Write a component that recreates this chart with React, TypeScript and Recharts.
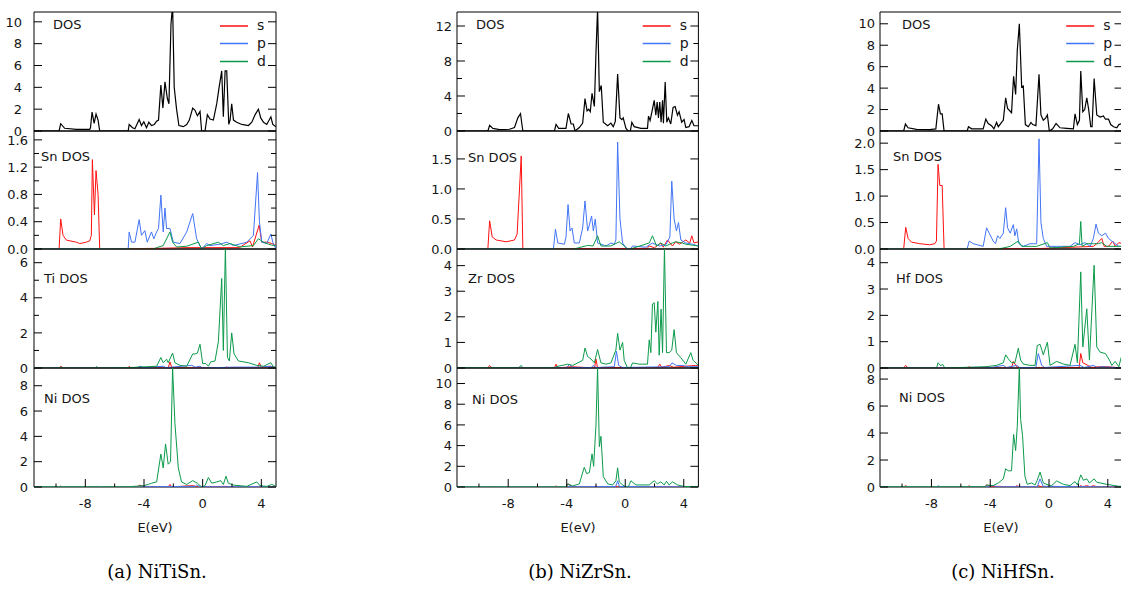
import { LineChart, Line, XAxis, YAxis, ReferenceArea } from 'recharts';

type Pt = [number, number];

const E_DOMAIN: [number, number] = [-11.5, 5];
const X_TICKS = [-10, -8, -6, -4, -2, 0, 2, 4];
const X_LABELS = [-8, -4, 0, 4];

// ---- (a) NiTiSn ----
const aTot: Pt[] = [[-11.5,0],[-9.79,0],[-9.68,0.67],[-9.41,0.25],[-8.61,0.15],[-7.7,0.15],[-7.65,0.3],[-7.54,1.74],[-7.4,0.7],[-7.27,1.55],[-7.13,1.0],[-7.02,0],[-5.08,0],[-5.01,0.6],[-4.78,0.3],[-4.62,0.2],[-4.33,1.05],[-4.17,0.5],[-4.01,0.85],[-3.83,0.3],[-3.67,0.8],[-3.49,0.5],[-3.3,0.6],[-3.14,0.9],[-3.01,1.0],[-2.85,4.2],[-2.71,2.1],[-2.57,4.5],[-2.41,3.0],[-2.3,2.5],[-2.16,9.8],[-2.05,11.5],[-1.94,4.0],[-1.78,2.0],[-1.62,0.5],[-1.32,0.4],[-1.09,0.6],[-0.91,1.0],[-0.68,2.1],[-0.52,1.9],[-0.36,1.4],[-0.18,1.8],[-0.07,0],[0.16,0],[0.32,1.5],[0.5,1.1],[0.73,1.0],[0.96,2.5],[1.12,4.0],[1.3,5.5],[1.41,1.3],[1.53,5.5],[1.64,5.5],[1.78,0.6],[1.87,1.0],[1.98,2.5],[2.1,1.0],[2.32,0.8],[2.67,0.6],[3.12,0.5],[3.35,0.8],[3.58,1.5],[3.8,2.0],[3.96,1.2],[4.15,0.8],[4.37,0.6],[4.65,1.3],[4.78,0.6],[5.0,0.4]];
const aSnS: Pt[] = [[-11.5,0],[-9.79,0],[-9.68,0.44],[-9.52,0.2],[-9.29,0.13],[-8.61,0.1],[-8.38,0.08],[-7.93,0.1],[-7.7,0.12],[-7.59,0.2],[-7.52,1.31],[-7.38,0.5],[-7.27,1.15],[-7.13,0.8],[-7.02,0],[-3.0,0.01],[-1.0,0.02],[2.5,0.02],[3.23,0.12],[3.4,0.03],[3.85,0.35],[4.03,0.1],[4.37,0.1],[4.71,0.08],[5.0,0.05]];
const aSnP: Pt[] = [[-11.5,0],[-5.08,0],[-5.01,0.25],[-4.85,0.1],[-4.62,0.1],[-4.33,0.43],[-4.17,0.2],[-3.94,0.27],[-3.78,0.1],[-3.49,0.25],[-3.33,0.15],[-3.14,0.25],[-3.01,0.3],[-2.85,0.79],[-2.69,0.25],[-2.57,0.6],[-2.46,0.3],[-2.23,0.3],[-2.0,0.1],[-1.55,0.08],[-1.09,0.25],[-0.68,0.52],[-0.41,0.15],[-0.07,0],[0.27,0.08],[0.5,0.05],[1.18,0.07],[1.64,0.1],[2.1,0.05],[3.01,0.1],[3.46,0.2],[3.74,1.12],[3.87,0.4],[4.03,0.1],[4.37,0.08],[4.65,0.22],[4.78,0.1],[5.0,0]];
const aSnD: Pt[] = [[-11.5,0],[-3.37,0],[-3.14,0.02],[-2.69,0.05],[-2.23,0.25],[-2.05,0.1],[-1.78,0.03],[-1.09,0.04],[-0.3,0.1],[-0.07,0],[0.27,0.05],[1.07,0.1],[1.41,0.05],[1.87,0.08],[2.55,0.03],[3.46,0.05],[3.8,0.15],[4.15,0.1],[4.49,0.07],[4.83,0.05],[5.0,0.05]];
const aTiS: Pt[] = [[-11.5,0],[-9.8,0],[-9.68,0.1],[-9.5,0],[-5.1,0],[-5.0,0.1],[-4.9,0],[-2.35,0],[-2.23,0.35],[-2.1,0],[1.6,0],[1.64,0.07],[1.7,0],[3.75,0],[3.87,0.3],[4.0,0.02],[4.6,0.1],[5.0,0.02]];
const aTiP: Pt[] = [[-11.5,0],[-4.5,0],[-4.28,0.1],[-4.0,0.02],[-2.69,0.1],[-2.5,0.02],[-0.75,0.15],[-0.5,0.05],[-0.18,0.1],[0,0],[2.1,0.05],[3.9,0.05],[4.6,0.1],[5.0,0.02]];
const aTiD: Pt[] = [[-11.5,0],[-9.8,0],[-9.68,0.05],[-9.5,0],[-7.35,0],[-7.24,0.08],[-7.1,0],[-5.08,0.02],[-3.14,0.1],[-2.85,0.6],[-2.69,0.3],[-2.46,0.5],[-2.35,0.3],[-2.05,0.85],[-1.89,0.3],[-1.55,0.15],[-1.09,0.1],[-0.68,0.8],[-0.52,0.8],[-0.36,0.85],[-0.18,1.35],[0,0.25],[0.23,0.25],[0.39,0.1],[0.55,0.35],[0.84,0.4],[1.07,1.5],[1.3,5.1],[1.41,1.0],[1.55,6.9],[1.69,0.6],[1.82,0.4],[1.98,2.0],[2.14,0.8],[2.44,0.4],[3.12,0.3],[3.69,0.15],[4.15,0.1],[4.65,0.3],[4.83,0.05],[5.0,0.05]];
const aNiS: Pt[] = [[-11.5,0],[-9.8,0],[-9.68,0.07],[-9.5,0],[-4.5,0],[-4.28,0.15],[-4.0,0],[-2.35,0],[-2.23,0.2],[-2.1,0],[-0.9,0.1],[-0.6,0.1],[-0.4,0],[1.6,0.05],[1.8,0],[5.0,0]];
const aNiP: Pt[] = [[-11.5,0],[-7.3,0],[-7.24,0.05],[-7.1,0],[-4.3,0],[-4.17,0.1],[-4.0,0.02],[-0.5,0.05],[-0.41,0.15],[-0.2,0.02],[3.8,0.02],[3.92,0.1],[4.1,0.02],[5.0,0]];
const aNiD: Pt[] = [[-11.5,0.02],[-5.08,0.02],[-4.05,0.1],[-3.71,0.2],[-3.49,0.3],[-3.14,0.4],[-2.85,2.6],[-2.69,1.5],[-2.53,3.4],[-2.35,1.8],[-2.19,2.0],[-2.05,9.4],[-1.89,5.0],[-1.66,1.5],[-1.44,0.4],[-1.09,0.2],[-0.68,0.5],[-0.36,0.3],[-0.07,0],[0.16,0.1],[0.39,0.75],[0.62,0.3],[0.96,0.4],[1.23,0.5],[1.41,0.2],[1.59,0.85],[1.75,0.3],[2.1,0.15],[3.01,0.05],[3.69,0.4],[3.92,0.1],[4.37,0.05],[4.71,0.2],[5.0,0.05]];

// ---- (b) NiZrSn ----
const bTot: Pt[] = [[-11.5,0],[-9.39,0],[-9.27,0.65],[-9.05,0.3],[-8.59,0.15],[-7.91,0.2],[-7.57,0.4],[-7.34,1.5],[-7.16,1.97],[-7.0,0],[-4.84,0],[-4.73,0.75],[-4.55,0.3],[-4.05,0.3],[-3.89,2.0],[-3.7,0.8],[-3.55,0.8],[-3.43,0],[-3.14,0.4],[-2.91,0.9],[-2.75,3.7],[-2.61,2.3],[-2.5,2.5],[-2.39,2.2],[-2.27,4.3],[-2.11,2.8],[-2.0,9.0],[-1.89,14.0],[-1.77,4.5],[-1.64,5.2],[-1.5,1.0],[-1.2,0.6],[-0.98,0.9],[-0.82,0.5],[-0.68,1.1],[-0.52,6.5],[-0.36,1.5],[-0.23,1.3],[-0.14,1.5],[0.05,0.3],[0.2,0],[0.35,0],[0.45,1.0],[0.61,0.5],[1.07,0.3],[1.52,0.3],[1.59,1.7],[1.7,1.2],[1.86,2.5],[1.98,3.5],[2.09,1.8],[2.18,3.3],[2.27,1.5],[2.36,3.3],[2.45,1.0],[2.55,3.5],[2.61,0.9],[2.73,5.6],[2.84,1.0],[2.95,1.5],[3.11,0.8],[3.27,2.7],[3.41,2.8],[3.57,1.8],[3.68,2.2],[3.86,1.0],[4.02,1.3],[4.14,0.4],[4.36,0.5],[4.55,1.2],[4.7,0.6],[5.0,0.6]];
const bSnS: Pt[] = [[-11.5,0],[-9.39,0],[-9.27,0.47],[-9.09,0.2],[-8.82,0.15],[-8.14,0.12],[-7.57,0.15],[-7.39,0.25],[-7.11,1.55],[-7.0,0],[1.5,0.01],[1.64,0.05],[2.0,0.02],[2.43,0.1],[2.6,0.03],[2.89,0.15],[3.23,0.05],[3.45,0.12],[3.7,0.08],[4.14,0.15],[4.41,0.1],[4.55,0.22],[4.7,0.1],[5.0,0.12]];
const bSnP: Pt[] = [[-11.5,0],[-4.91,0],[-4.77,0.33],[-4.61,0.1],[-4.16,0.08],[-4.05,0.2],[-3.91,0.74],[-3.77,0.3],[-3.64,0.35],[-3.48,0.1],[-3.14,0.1],[-2.91,0.35],[-2.75,0.8],[-2.57,0.3],[-2.45,0.4],[-2.3,0.55],[-2.18,0.3],[-2.05,0.5],[-1.89,0.1],[-1.32,0.05],[-0.98,0.1],[-0.75,0.08],[-0.64,0.15],[-0.52,1.78],[-0.36,0.5],[-0.18,0.1],[0.05,0.02],[0.2,0],[0.35,0],[0.5,0.05],[1.41,0.03],[1.86,0.1],[2.32,0.05],[2.77,0.07],[3.05,0.2],[3.18,1.13],[3.34,0.5],[3.5,0.3],[3.64,0.44],[3.8,0.15],[4.14,0.1],[4.59,0.08],[5.0,0.05]];
const bSnD: Pt[] = [[-11.5,0],[-3.5,0],[-2.57,0.06],[-2.2,0.05],[-1.89,0.22],[-1.66,0.05],[-0.98,0.05],[-0.41,0.12],[-0.07,0.05],[0.16,0],[0.35,0],[1.64,0.1],[1.86,0.22],[2.14,0.05],[2.43,0.1],[2.77,0.05],[3.23,0.1],[3.45,0.12],[3.89,0.1],[4.14,0.08],[5.0,0.05]];
const bZrS: Pt[] = [[-11.5,0],[-9.4,0],[-9.27,0.1],[-9.1,0],[-4.85,0],[-4.73,0.15],[-4.6,0],[-3.7,0.05],[-2.1,0],[-2.0,0.35],[-1.9,0.02],[2.2,0],[2.36,0.15],[2.5,0.02],[3.0,0.1],[3.3,0.03],[4.8,0.1],[5.0,0.08]];
const bZrP: Pt[] = [[-11.5,0],[-4.0,0],[-3.82,0.15],[-3.6,0.02],[-2.3,0.02],[-2.2,0.1],[-2.0,0.02],[-0.75,0.05],[-0.6,0.65],[-0.45,0.1],[-0.2,0.02],[3.0,0.05],[3.2,0.2],[3.5,0.1],[3.9,0.1],[4.3,0.05],[5.0,0.05]];
const bZrD: Pt[] = [[-11.5,0.01],[-7.3,0.01],[-7.11,0.1],[-7.0,0],[-4.8,0.01],[-4.73,0.05],[-3.93,0.15],[-3.59,0.1],[-2.91,0.3],[-2.75,0.78],[-2.57,0.45],[-2.34,0.35],[-2.11,0.2],[-1.89,0.72],[-1.66,0.2],[-1.32,0.15],[-0.98,0.2],[-0.64,0.7],[-0.52,1.35],[-0.36,0.7],[-0.18,1.0],[-0.07,0.3],[0.16,0],[0.35,0],[0.5,0.2],[0.95,0.15],[1.52,0.15],[1.64,1.1],[1.75,0.6],[1.86,2.5],[1.98,2.55],[2.09,1.4],[2.23,2.6],[2.32,0.5],[2.45,2.3],[2.55,0.6],[2.68,4.7],[2.82,0.6],[3.0,0.6],[3.18,0.7],[3.34,1.5],[3.5,0.6],[3.8,0.4],[4.14,0.15],[4.48,0.6],[4.64,0.3],[5.0,0.1]];
const bNiS: Pt[] = [[-11.5,0],[-9.4,0],[-9.27,0.05],[-9.1,0],[-4.85,0],[-4.73,0.1],[-4.6,0],[-4.05,0],[-3.93,0.3],[-3.6,0.05],[-3.3,0],[-2.1,0],[-2.0,0.1],[-1.9,0],[-0.7,0],[-0.64,0.1],[-0.5,0],[5.0,0]];
const bNiP: Pt[] = [[-11.5,0],[-7.3,0],[-7.23,0.03],[-7.1,0],[-3.95,0],[-3.82,0.1],[-3.6,0.02],[-0.65,0.05],[-0.52,0.6],[-0.4,0.05],[3.1,0.02],[3.23,0.05],[3.4,0.02],[5.0,0]];
const bNiD: Pt[] = [[-11.5,0.02],[-4.05,0.02],[-3.93,0.3],[-3.59,0.1],[-3.14,0.3],[-2.8,1.9],[-2.64,1.3],[-2.45,1.4],[-2.27,3.2],[-2.16,2.0],[-2.0,6.0],[-1.89,11.5],[-1.77,3.9],[-1.66,4.9],[-1.5,1.0],[-1.2,0.3],[-0.86,0.2],[-0.64,0.6],[-0.52,1.85],[-0.41,0.5],[-0.18,0.2],[0.05,0],[0.2,0],[0.39,0.6],[0.73,0.2],[1.64,0.2],[1.98,0.6],[2.2,0.3],[2.43,0.5],[2.66,0.2],[2.82,0.55],[3.0,0.2],[3.23,0.5],[3.57,0.2],[4.02,0.05],[5.0,0.05]];

// ---- (c) NiHfSn ----
const cTot: Pt[] = [[-11.5,0],[-9.89,0],[-9.77,0.65],[-9.59,0.3],[-9.02,0.15],[-8.11,0.12],[-7.7,0.2],[-7.52,2.5],[-7.39,1.6],[-7.27,1.6],[-7.14,0],[-5.57,0],[-5.48,0.4],[-5.27,0.2],[-4.48,0.2],[-4.3,1.1],[-4.14,0.7],[-3.91,0.5],[-3.75,0.2],[-3.57,0.8],[-3.45,0.4],[-3.23,0.8],[-3.11,1.0],[-2.95,3.1],[-2.82,2.1],[-2.55,1.7],[-2.41,5.1],[-2.27,3.4],[-2.16,7.5],[-2.02,10.0],[-1.86,4.1],[-1.75,4.2],[-1.61,0.6],[-1.41,0.4],[-1.23,0.8],[-1.11,0.6],[-0.89,0.5],[-0.68,5.3],[-0.55,1.5],[-0.39,1.0],[-0.23,1.2],[-0.11,1.5],[0.02,0],[0.25,0.2],[0.48,0.7],[0.75,0.3],[1.2,0.25],[1.66,0.2],[1.77,1.6],[1.93,0.6],[2.07,1.0],[2.16,5.6],[2.3,1.8],[2.43,2.0],[2.57,3.1],[2.7,2.0],[2.84,0.4],[2.93,0.4],[3.07,4.9],[3.25,1.5],[3.48,1.3],[3.7,1.4],[3.84,1.1],[4.05,1.1],[4.2,0.6],[4.39,0.4],[4.61,0.3],[4.75,0.6],[5.0,0.7]];
const cSnS: Pt[] = [[-11.5,0],[-9.89,0],[-9.75,0.41],[-9.59,0.2],[-9.36,0.13],[-8.8,0.1],[-8.11,0.08],[-7.77,0.1],[-7.66,0.15],[-7.55,1.6],[-7.43,1.2],[-7.27,1.2],[-7.14,0],[-0.5,0.01],[3.02,0.05],[3.25,0.1],[3.59,0.2],[3.75,0.05],[4.05,0.05],[4.34,0.15],[4.5,0.05],[4.75,0.12],[5.0,0.1]];
const cSnP: Pt[] = [[-11.5,0],[-5.57,0],[-5.43,0.15],[-5.16,0.1],[-4.48,0.05],[-4.25,0.4],[-4.07,0.3],[-3.8,0.15],[-3.64,0.1],[-3.5,0.25],[-3.34,0.2],[-3.11,0.3],[-2.95,0.78],[-2.82,0.4],[-2.64,0.3],[-2.43,0.46],[-2.32,0.25],[-2.2,0.38],[-2.05,0.1],[-1.75,0.05],[-1.3,0.1],[-1.07,0.1],[-0.84,0.1],[-0.68,2.08],[-0.55,0.5],[-0.39,0.2],[-0.16,0.05],[0.52,0.05],[1.43,0.05],[1.77,0.12],[2.11,0.08],[2.45,0.12],[2.8,0.05],[3.02,0.2],[3.2,0.47],[3.36,0.3],[3.59,0.25],[3.84,0.3],[4.05,0.2],[4.27,0.15],[4.75,0.05],[5.0,0.05]];
const cSnD: Pt[] = [[-11.5,0],[-3.5,0],[-3.11,0.02],[-2.64,0.05],[-2.09,0.15],[-1.86,0.05],[-1.3,0.05],[-0.84,0.05],[-0.11,0.12],[0.07,0.02],[1.66,0.05],[2.07,0.1],[2.16,0.52],[2.25,0.05],[2.57,0.1],[3.02,0.1],[3.36,0.1],[3.59,0.12],[3.93,0.05],[5.0,0.05]];
const cHfS: Pt[] = [[-11.5,0],[-9.9,0],[-9.75,0.1],[-9.6,0],[-5.55,0],[-5.43,0.05],[-5.3,0],[-2.55,0],[-2.43,0.25],[-2.2,0.05],[-2.0,0],[2.05,0.02],[2.16,0.55],[2.3,0.2],[2.64,0.1],[2.9,0.02],[3.48,0.05],[3.93,0.05],[5.0,0]];
const cHfP: Pt[] = [[-11.5,0],[-4.4,0],[-4.25,0.05],[-4.1,0],[-3.11,0.1],[-2.9,0.02],[-2.2,0.1],[-2.0,0.02],[-0.9,0.02],[-0.73,0.55],[-0.5,0.1],[-0.3,0.02],[2.11,0.1],[2.4,0.02],[3.02,0.1],[3.3,0.02],[3.59,0.05],[5.0,0]];
const cHfD: Pt[] = [[-11.5,0],[-7.65,0],[-7.55,0.2],[-7.36,0.08],[-7.25,0.15],[-7.09,0],[-4.25,0.05],[-3.57,0.1],[-3.11,0.2],[-2.95,0.5],[-2.77,0.35],[-2.55,0.2],[-2.32,0.2],[-2.09,0.75],[-1.93,0.3],[-1.75,0.15],[-1.3,0.1],[-0.95,0.1],[-0.8,0.85],[-0.61,0.9],[-0.39,0.5],[-0.11,0.98],[0.07,0.1],[0.52,0.25],[0.98,0.15],[1.43,0.1],[1.77,0.9],[1.93,0.2],[2.16,3.65],[2.3,0.8],[2.57,2.25],[2.75,0.3],[3.07,3.9],[3.25,0.8],[3.48,0.6],[3.84,0.55],[4.11,0.3],[4.27,0.1],[4.5,0.25],[4.75,0.05],[4.91,0.4],[5.0,0.3]];
const cNiS: Pt[] = [[-11.5,0],[-9.9,0],[-9.75,0.1],[-9.6,0],[-5.55,0],[-5.43,0.1],[-5.3,0],[-4.4,0],[-4.25,0.15],[-4.0,0.02],[-3.45,0.05],[-2.3,0],[-2.2,0.1],[-2.0,0],[-0.8,0.02],[-0.73,0.1],[-0.5,0],[2.05,0.02],[2.16,0.1],[2.3,0.02],[2.57,0.1],[2.8,0.02],[3.02,0.1],[3.3,0],[5.0,0]];
const cNiP: Pt[] = [[-11.5,0],[-7.65,0],[-7.52,0.1],[-7.4,0],[-4.4,0],[-4.25,0.05],[-3.8,0.1],[-3.5,0.02],[-0.8,0.02],[-0.61,0.6],[-0.4,0.05],[0.07,0.05],[2.2,0.02],[2.34,0.05],[2.5,0.02],[5.0,0]];
const cNiD: Pt[] = [[-11.5,0.02],[-4.36,0.02],[-4.25,0.15],[-3.8,0.1],[-3.45,0.3],[-3.11,0.6],[-2.95,1.35],[-2.77,1.2],[-2.55,1.2],[-2.41,3.9],[-2.27,2.7],[-2.16,4.5],[-2.02,8.9],[-1.93,5.0],[-1.8,3.8],[-1.64,0.8],[-1.48,0.2],[-1.18,0.3],[-0.95,0.15],[-0.8,0.5],[-0.61,1.1],[-0.39,0.3],[-0.05,0.15],[0.18,0.1],[0.52,0.45],[0.98,0.2],[1.43,0.1],[1.77,0.4],[1.93,0.15],[2.16,0.9],[2.34,0.5],[2.57,0.6],[2.75,0.3],[3.07,0.6],[3.25,0.35],[3.93,0.2],[4.75,0.05],[5.0,0.05]];

const COL = { s: '#ff1010', p: '#4274f6', d: '#0a9a4a', tot: '#000000' };
const FONT = '"DejaVu Sans", Verdana, sans-serif';
const TXT = '#151515';

const PANEL_TOPS = [12, 131, 249, 368, 487];
const PAD = 8;

type Series = { pts: Pt[]; color: string; width?: number };
type PanelDef = { ymax: number; major: number[]; minor: number[]; dec: number; label: string; lx: number; ly: number; gap?: number; series: Series[] };
type ColDef = { left: number; plotW: number; gap: number; caption: string; panels: PanelDef[] };

const partial = (s: Pt[], p: Pt[], d: Pt[]): Series[] => [
  { pts: s, color: COL.s }, { pts: p, color: COL.p }, { pts: d, color: COL.d },
];

const columns: ColDef[] = [
  {
    left: 34, plotW: 242, gap: 6, caption: '(a) NiTiSn.',
    panels: [
      { ymax: 10.9, major: [0, 2, 4, 6, 8, 10], minor: [], dec: 0, label: 'DOS', lx: 53, ly: 24, gap: 12, series: [{ pts: aTot, color: COL.tot, width: 1.2 }] },
      { ymax: 1.73, major: [0, 0.4, 0.8, 1.2, 1.6], minor: [0.2, 0.6, 1.0, 1.4], dec: 1, label: 'Sn DOS', lx: 41, ly: 156, series: partial(aSnS, aSnP, aSnD) },
      { ymax: 6.78, major: [0, 2, 4, 6], minor: [1, 3, 5], dec: 0, label: 'Ti DOS', lx: 44, ly: 278, series: partial(aTiS, aTiP, aTiD) },
      { ymax: 9.4, major: [0, 2, 4, 6, 8], minor: [], dec: 0, label: 'Ni DOS', lx: 44, ly: 398, series: partial(aNiS, aNiP, aNiD) },
    ],
  },
  {
    left: 457.3, plotW: 241.4, gap: 5, caption: '(b) NiZrSn.',
    panels: [
      { ymax: 13.6, major: [0, 4, 8, 12], minor: [2, 6, 10], dec: 0, label: 'DOS', lx: 476, ly: 24, series: [{ pts: bTot, color: COL.tot, width: 1.2 }] },
      { ymax: 1.965, major: [0, 0.5, 1.0, 1.5], minor: [], dec: 1, label: 'Sn DOS', lx: 468, ly: 157, series: partial(bSnS, bSnP, bSnD) },
      { ymax: 4.65, major: [0, 1, 2, 3, 4], minor: [], dec: 0, label: 'Zr DOS', lx: 468, ly: 278, series: partial(bZrS, bZrP, bZrD) },
      { ymax: 11.5, major: [0, 2, 4, 6, 8, 10], minor: [], dec: 0, label: 'Ni DOS', lx: 472, ly: 399, series: partial(bNiS, bNiP, bNiD) },
    ],
  },
  {
    left: 879.7, plotW: 242.5, gap: 5, caption: '(c) NiHfSn.',
    panels: [
      { ymax: 11.1, major: [0, 2, 4, 6, 8, 10], minor: [], dec: 0, label: 'DOS', lx: 902, ly: 24, series: [{ pts: cTot, color: COL.tot, width: 1.2 }] },
      { ymax: 2.23, major: [0, 0.5, 1.0, 1.5, 2.0], minor: [], dec: 1, label: 'Sn DOS', lx: 893, ly: 156, series: partial(cSnS, cSnP, cSnD) },
      { ymax: 4.52, major: [0, 1, 2, 3, 4], minor: [], dec: 0, label: 'Hf DOS', lx: 896, ly: 278, series: partial(cHfS, cHfP, cHfD) },
      { ymax: 8.82, major: [0, 2, 4, 6, 8], minor: [], dec: 0, label: 'Ni DOS', lx: 899, ly: 397, series: partial(cNiS, cNiP, cNiD) },
    ],
  },
];

const LEGEND = [
  { key: 's', color: COL.s, y: 26 },
  { key: 'p', color: COL.p, y: 43.5 },
  { key: 'd', color: COL.d, y: 61.5 },
];

const toRows = (pts: Pt[]) => pts.map(([e, v]) => ({ e, v }));

function Panel({ col, def, idx }: { col: ColDef; def: PanelDef; idx: number }) {
  const isTop = idx === 0;
  const isBottom = idx === 3;
  const top = PANEL_TOPS[idx];
  const plotH = PANEL_TOPS[idx + 1] - top;
  const plotW = col.plotW;
  const xH = isBottom ? 30 : 0;
  const gap = def.gap ?? col.gap;

  const XTick = (props: any) => {
    const { x, y, payload } = props;
    const major = X_LABELS.includes(payload.value);
    return (
      <g>
        {isBottom && <line x1={x} x2={x} y1={y} y2={y - (major ? 8 : 3.5)} stroke="#000" />}
        {isTop && <line x1={x} x2={x} y1={y - plotH} y2={y - plotH + 4} stroke="#000" />}
        {isBottom && major && (
          <text x={x} y={y + 21} textAnchor="middle" fontFamily={FONT} fontSize={13} fill={TXT}>
            {payload.value}
          </text>
        )}
      </g>
    );
  };

  const YTick = (props: any) => {
    const { x, y, payload } = props;
    const major = def.major.includes(payload.value);
    const len = major ? 8 : 5;
    return (
      <g>
        <line x1={x} x2={x + len} y1={y} y2={y} stroke="#000" />
        <line x1={x + plotW} x2={x + plotW - len} y1={y} y2={y} stroke="#000" />
        {major && (
          <text x={x - gap} y={y} dy="0.36em" textAnchor="end" fontFamily={FONT} fontSize={13} fill={TXT}>
            {Number(payload.value).toFixed(def.dec)}
          </text>
        )}
      </g>
    );
  };

  return (
    <div style={{ position: 'absolute', left: col.left - 30, top: top - PAD }}>
      <LineChart width={30 + plotW + 2} height={PAD + plotH + xH + PAD} margin={{ top: PAD, right: 2, bottom: PAD, left: 0 }}>
        <XAxis
          type="number"
          dataKey="e"
          domain={E_DOMAIN}
          ticks={X_TICKS}
          interval={0}
          allowDataOverflow
          axisLine={false}
          tickLine={false}
          tickSize={0}
          tickMargin={0}
          height={xH}
          tick={XTick}
        />
        <YAxis
          type="number"
          domain={[0, def.ymax]}
          ticks={[...def.major, ...def.minor]}
          interval={0}
          allowDataOverflow
          axisLine={false}
          tickLine={false}
          tickSize={0}
          tickMargin={0}
          width={30}
          tick={YTick}
        />
        <ReferenceArea x1={E_DOMAIN[0]} x2={E_DOMAIN[1]} y1={0} y2={def.ymax} fill="none" stroke="#000" strokeWidth={1} ifOverflow="visible" />
        {def.series.map((s, i) => (
          <Line
            key={i}
            data={toRows(s.pts)}
            dataKey="v"
            type="linear"
            stroke={s.color}
            strokeWidth={s.width ?? 1}
            dot={false}
            activeDot={false}
            isAnimationActive={false}
          />
        ))}
      </LineChart>
    </div>
  );
}

export default function App() {
  return (
    <div style={{ position: 'absolute', left: 0, top: 0, width: 1121, height: 594, overflow: 'hidden', background: '#fff' }}>
      {columns.map((col, ci) =>
        col.panels.map((p, pi) => <Panel key={`${ci}-${pi}`} col={col} def={p} idx={pi} />)
      )}
      <svg width={1121} height={594} style={{ position: 'absolute', left: 0, top: 0, pointerEvents: 'none' }}>
        {columns.map((col, ci) => (
          <g key={ci}>
            {col.panels.map((p, pi) => (
              <text key={pi} x={p.lx} y={p.ly} dy="0.36em" fontFamily={FONT} fontSize={13} fill={TXT}>
                {p.label}
              </text>
            ))}
            {LEGEND.map((l) => (
              <g key={l.key}>
                <line x1={col.left + col.plotW - 56} x2={col.left + col.plotW - 28} y1={l.y} y2={l.y} stroke={l.color} strokeWidth={1.5} />
                <text x={col.left + col.plotW - 19} y={l.y + 4} fontFamily={FONT} fontSize={14} fill={TXT}>
                  {l.key}
                </text>
              </g>
            ))}
            <text x={col.left + col.plotW / 2} y={527} dy="0.36em" textAnchor="middle" fontFamily={FONT} fontSize={13} fill={TXT}>
              E(eV)
            </text>
            <text x={col.left + col.plotW / 2 + 2} y={572} dy="0.35em" textAnchor="middle" fontFamily='"DejaVu Serif", "Liberation Serif", serif' fontSize={18} fill="#000">
              {col.caption}
            </text>
          </g>
        ))}
      </svg>
    </div>
  );
}
